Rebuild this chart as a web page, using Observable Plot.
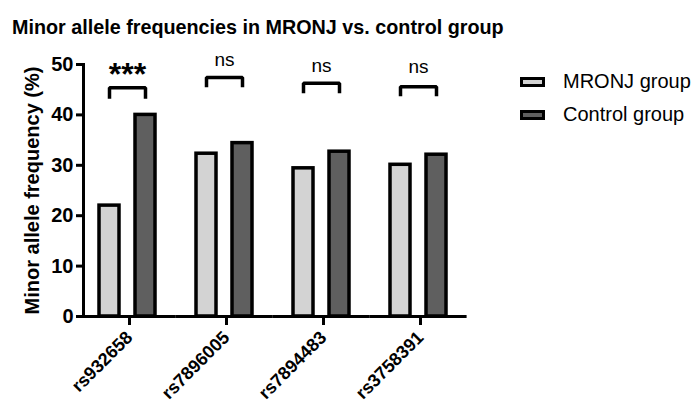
<!DOCTYPE html>
<html><head><meta charset="utf-8">
<script src="https://cdn.jsdelivr.net/npm/d3@7"></script>
<script src="https://cdn.jsdelivr.net/npm/@observablehq/plot@0.6"></script>
<style>
body{margin:0;background:#fff;font-family:"Liberation Sans",Arial,sans-serif;}
#wrap{position:relative;width:699px;height:405px;overflow:hidden;}
#title{position:absolute;left:12px;top:18px;font-size:19.75px;font-weight:bold;color:#000;white-space:nowrap;line-height:1;}
#legend{position:absolute;left:520px;top:65px;}
.item{display:flex;align-items:center;height:33px;font-size:20px;color:#000;white-space:nowrap;}
.sw{width:19px;height:4px;border:3px solid #000;margin-right:18px;}
</style></head><body>
<div id="wrap"><div id="chart"></div><div id="title">Minor allele frequencies in MRONJ vs. control group</div><div id="legend"></div></div>
<script>
const snps = ["rs932658", "rs7896005", "rs7894483", "rs3758391"];
const groups = ["MRONJ group", "Control group"];
const mronj = [22.0, 32.3, 29.4, 30.1];
const control = [40.0, 34.4, 32.7, 32.1];
const groupColors = ["#d3d3d3", "#5f5f5f"];
const sigLabels = ["***", "ns", "ns", "ns"];
const labelY = [48.8, 51.0, 49.8, 49.5];
const bracketTop = [45.4, 47.4, 46.3, 45.6];
const bracketTip = [43.2, 45.5, 44.3, 43.7];
const yTicks = [0, 10, 20, 30, 40, 50];

const bars = snps.flatMap((s, i) => [
  {snp: s, group: groups[0], value: mronj[i]},
  {snp: s, group: groups[1], value: control[i]}
]);
const brackets = snps.flatMap((s, i) => [
  {snp: s, group: groups[0], y: bracketTip[i]},
  {snp: s, group: groups[0], y: bracketTop[i]},
  {snp: s, group: groups[1], y: bracketTop[i]},
  {snp: s, group: groups[1], y: bracketTip[i]}
]);
const sig = snps.map((s, i) => ({snp: s, label: sigLabels[i], y: labelY[i]}));

const chart = Plot.plot({
  width: 699, height: 405,
  marginLeft: 82, marginRight: 235, marginTop: 64, marginBottom: 89,
  style: {fontFamily: "Liberation Sans, Arial, sans-serif", fontSize: "20px", fontWeight: "bold", color: "#000", background: "#fff", overflow: "visible"},
  fx: {domain: snps, paddingInner: 0.091, paddingOuter: 0, label: null},
  x: {domain: groups, paddingInner: 0.452, paddingOuter: 0.4425, axis: null},
  y: {domain: [0, 50], label: null},
  color: {domain: groups, range: groupColors},
  marks: [
    Plot.barY(bars, {fx: "snp", x: "group", y: "value", fill: "group", stroke: "#000", strokeWidth: 3.5}),
    Plot.ruleY([0], {stroke: "#000", strokeWidth: 3, insetLeft: -4.6, insetRight: -4.6}),
    Plot.frame({anchor: "left", fx: () => snps[0], stroke: "#000", strokeWidth: 3}),
    Plot.line(brackets, {fx: "snp", x: "group", y: "y", z: "snp", stroke: "#000", strokeWidth: 3.5, strokeLinejoin: "miter", strokeLinecap: "butt"}),
    Plot.text(sig.filter(d => d.label !== "ns"), {fx: "snp", y: "y", text: "label", fontSize: 32, fontWeight: "bold", dy: 4}),
    Plot.text(sig.filter(d => d.label === "ns"), {fx: "snp", y: "y", text: "label", fontSize: 19, fontWeight: "normal"}),
    Plot.axisY(yTicks, {tickSize: 7, tickPadding: 3, strokeWidth: 3, label: "Minor allele frequency (%)", labelAnchor: "center", labelOffset: 59, labelArrow: "none", fontSize: 20, fontWeight: "bold"}),
    Plot.axisFx({anchor: "bottom", tickRotate: -45, tickSize: 9, strokeWidth: 3, tickPadding: 9, dx: 2, label: null, fontSize: 18, fontWeight: "bold"})
  ]
});
document.getElementById("chart").appendChild(chart);

const legend = document.getElementById("legend");
groups.forEach((g, i) => {
  const item = document.createElement("div");
  item.className = "item";
  const sw = document.createElement("div");
  sw.className = "sw";
  sw.style.background = groupColors[i];
  const t = document.createElement("span");
  t.textContent = g;
  item.appendChild(sw);
  item.appendChild(t);
  legend.appendChild(item);
});
</script>
</body></html>
